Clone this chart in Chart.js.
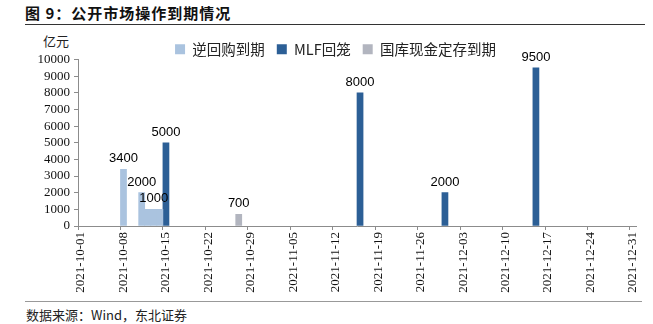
<!DOCTYPE html>
<html>
<head>
<meta charset="utf-8">
<script src="https://cdn.jsdelivr.net/npm/chart.js@4.4.1/dist/chart.umd.min.js"></script>
<style>
  html, body { margin: 0; padding: 0; background: #fff; }
  #wrap { position: relative; width: 653px; height: 324px; overflow: hidden; }
  #title { position: absolute; left: 25px; top: 2px; font: bold 15px "Noto Sans CJK SC", sans-serif; color: #111; letter-spacing: 1px; }
  #topLine { position: absolute; left: 25px; top: 24px; width: 620px; height: 0; border-top: 1px solid #333; }
  #unit { position: absolute; left: 43px; top: 31px; font: 13px "Noto Sans CJK SC", sans-serif; color: #222; }
  #bottomLine { position: absolute; left: 25px; top: 301px; width: 617px; height: 0; border-top: 1.5px solid #999; }
  #source { position: absolute; left: 26px; top: 305px; font: 13px "Noto Sans CJK SC", sans-serif; color: #222; }
  #chartBox { position: absolute; left: 0; top: 30px; width: 653px; height: 270px; }
</style>
</head>
<body>
<div id="wrap">
  <div id="title">图 9：公开市场操作到期情况</div>
  <div id="topLine"></div>
  <div id="unit">亿元</div>
  <div id="chartBox"><canvas id="chart"></canvas></div>
  <div id="bottomLine"></div>
  <div id="source">数据来源：Wind，东北证券</div>
</div>
<script>
// daily category axis, 2021-10-01 .. 2021-12-31
const firstDay = Date.UTC(2021, 9, 1);
const dayCount = 92;
const days = [];
for (let i = 0; i < dayCount; i++) {
  days.push(new Date(firstDay + i * 86400000).toISOString().slice(0, 10));
}

const seriesNames = ["逆回购到期", "MLF回笼", "国库现金定存到期"];

const reverseRepoDates = ["2021-10-08", "2021-10-11", "2021-10-12", "2021-10-13", "2021-10-14"];
const reverseRepoValues = [3400, 2000, 1000, 1000, 1000];
const reverseRepoLabels = ["3400", "2000", "", "1000", ""];

const mlfDates = ["2021-10-15", "2021-11-16", "2021-11-30", "2021-12-15"];
const mlfValues = [5000, 8000, 2000, 9500];
const mlfLabels = ["5000", "8000", "2000", "9500"];

const depositDates = ["2021-10-27"];
const depositValues = [700];
const depositLabels = ["700"];

const yTicks = [0, 1000, 2000, 3000, 4000, 5000, 6000, 7000, 8000, 9000, 10000];

function toDaily(dates, values) {
  return days.map((d) => {
    const k = dates.indexOf(d);
    return k === -1 ? null : values[k];
  });
}
function toDailyLabels(dates, labels) {
  return days.map((d) => {
    const k = dates.indexOf(d);
    return k === -1 ? "" : labels[k];
  });
}

const axisGray = "#8c8c8c";

// value labels above bars
const barLabels = {
  id: "barLabels",
  afterDatasetsDraw(chart) {
    const ctx = chart.ctx;
    ctx.save();
    ctx.font = '13px "Liberation Sans", Arial, sans-serif';
    ctx.fillStyle = "#000";
    ctx.textAlign = "center";
    ctx.textBaseline = "bottom";
    chart.data.datasets.forEach((ds, di) => {
      const meta = chart.getDatasetMeta(di);
      meta.data.forEach((bar, i) => {
        const txt = ds.valueLabels[i];
        if (!txt || ds.data[i] == null) return;
        ctx.fillText(txt, bar.x, bar.y - 4);
      });
    });
    ctx.restore();
  },
};

// keep the legend strip short so the plot starts where the reference does
const legendHeight = {
  id: "legendHeight",
  afterInit(chart) {
    const lg = chart.legend;
    if (!lg) return;
    const fit = lg.fit.bind(lg);
    lg.fit = function () {
      fit();
      this.height = 29.5;
    };
  },
};

new Chart(document.getElementById("chart"), {
  type: "bar",
  data: {
    labels: days,
    datasets: [
      {
        label: seriesNames[0],
        data: toDaily(reverseRepoDates, reverseRepoValues),
        valueLabels: toDailyLabels(reverseRepoDates, reverseRepoLabels),
        backgroundColor: "#aac3df",
      },
      {
        label: seriesNames[1],
        data: toDaily(mlfDates, mlfValues),
        valueLabels: toDailyLabels(mlfDates, mlfLabels),
        backgroundColor: "#2c5f96",
      },
      {
        label: seriesNames[2],
        data: toDaily(depositDates, depositValues),
        valueLabels: toDailyLabels(depositDates, depositLabels),
        backgroundColor: "#b2b5bf",
      },
    ],
  },
  options: {
    responsive: true,
    maintainAspectRatio: false,
    animation: false,
    grouped: false,
    barPercentage: 1,
    categoryPercentage: 1,
    layout: { padding: { top: 0, right: 17, left: 35, bottom: 0 } },
    plugins: {
      legend: {
        position: "top",
        labels: {
          boxWidth: 10,
          boxHeight: 10,
          padding: 12,
          color: "#222",
          font: { family: "Noto Sans CJK SC", size: 14.5 },
        },
      },
      tooltip: { enabled: false },
    },
    scales: {
      x: {
        type: "category",
        offset: true,
        grid: {
          offset: true,
          drawOnChartArea: false,
          tickLength: 4,
          color: (c) => (c.index % 7 === 0 ? axisGray : "rgba(0,0,0,0)"),
        },
        border: { color: axisGray },
        ticks: {
          autoSkip: false,
          maxRotation: 90,
          minRotation: 90,
          padding: 2,
          labelOffset: 0,
          color: "#111",
          font: { family: "Liberation Serif", size: 13 },
          callback: (v, i) => (i % 7 === 0 ? days[i] : ""),
        },
        afterFit: (s) => { s.height = 74; },
      },
      y: {
        min: 0,
        max: 10000,
        afterBuildTicks: (s) => { s.ticks = yTicks.map((v) => ({ value: v })); },
        grid: { drawOnChartArea: false, tickLength: 4, color: axisGray },
        border: { color: axisGray },
        ticks: {
          autoSkip: false,
          padding: 4,
          color: "#111",
          font: { family: "Liberation Serif", size: 13 },
          callback: (v) => String(v),
        },
        afterFit: (s) => { s.width = 43; },
      },
    },
  },
  plugins: [barLabels, legendHeight],
});
</script>
</body>
</html>
